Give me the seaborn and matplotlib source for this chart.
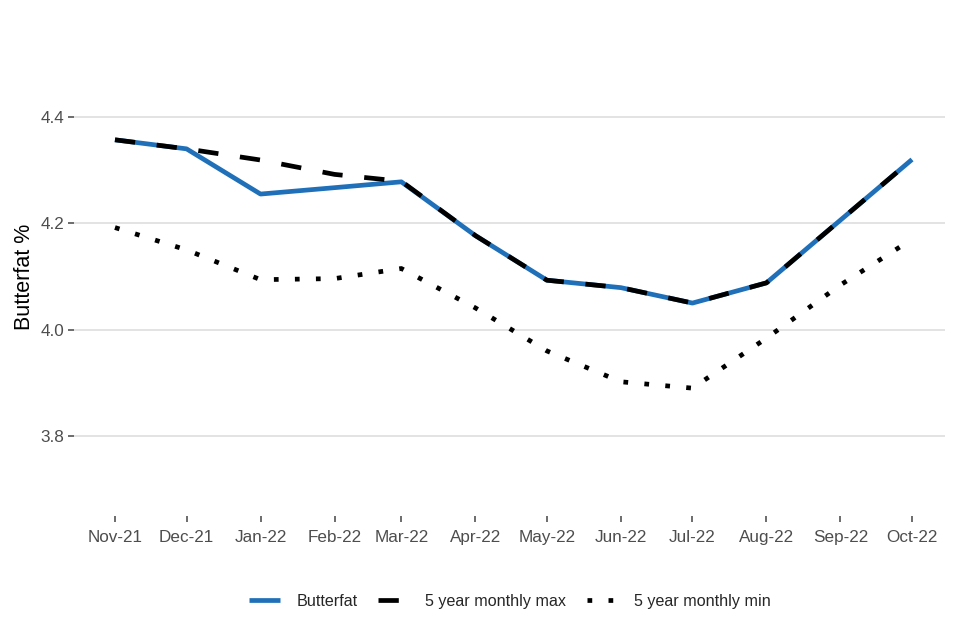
import pandas as pd
import numpy as np
import matplotlib
matplotlib.use("Agg")
import matplotlib.pyplot as plt
import matplotlib.dates as mdates
import seaborn as sns

# values
months = ["2021-11-01", "2021-12-01", "2022-01-01", "2022-02-01", "2022-03-01", "2022-04-01",
          "2022-05-01", "2022-06-01", "2022-07-01", "2022-08-01", "2022-09-01", "2022-10-01"]
butterfat = [4.357, 4.340, 4.255, 4.267, 4.278, 4.177, 4.093, 4.079, 4.050, 4.088, 4.206, 4.320]
max_5yr = [4.357, 4.340, 4.319, 4.292, 4.279, 4.177, 4.093, 4.079, 4.050, 4.088, 4.206, 4.320]
min_5yr = [4.192, 4.150, 4.094, 4.096, 4.115, 4.041, 3.960, 3.902, 3.890, 3.984, 4.084, 4.170]
series_names = ["Butterfat", "5 year monthly max", "5 year monthly min"]

df = pd.DataFrame({"month": pd.to_datetime(months),
                   series_names[0]: butterfat,
                   series_names[1]: max_5yr,
                   series_names[2]: min_5yr})
long = df.melt(id_vars="month", var_name="series", value_name="value")

sns.set_theme(style="white")
plt.rcParams['font.family'] = ['Liberation Sans', 'DejaVu Sans']

fig, ax = plt.subplots(figsize=(9.6, 6.4), dpi=100)

sns.lineplot(data=long, x="month", y="value", hue="series", style="series",
             hue_order=series_names, style_order=series_names,
             palette=["#1f70b8", "black", "black"],
             dashes=[(None, None), (4.3, 4.6), (1, 3.45)],
             linewidth=3.4, ax=ax)
for line in ax.lines:
    line.set_dash_capstyle("butt")
    line.set_solid_capstyle("butt")

ax.set_ylim(3.65, 4.55)
ax.set_yticks([3.8, 4.0, 4.2, 4.4])
ax.set_yticklabels(["3.8", "4.0", "4.2", "4.4"])
ax.set_xlim(pd.Timestamp("2021-10-15"), pd.Timestamp("2022-10-15"))
ax.xaxis.set_major_locator(mdates.MonthLocator())
ax.xaxis.set_major_formatter(mdates.DateFormatter("%b-%y"))

ax.yaxis.grid(True, color="#e3e3e3", linewidth=1.4)
ax.xaxis.grid(False)
for s in ax.spines.values():
    s.set_visible(False)
ax.tick_params(axis="both", which="major", length=4, width=1.1, color="#444444",
               labelsize=12.3, labelcolor="#4d4d4d", left=True, bottom=True, pad=3)
ax.tick_params(axis="x", pad=6)
ax.set_xlabel("")
ax.set_ylabel("Butterfat %", fontsize=15.5, color="black", labelpad=4)

ax.legend(title=None, loc="upper center", bbox_to_anchor=(0.5, -0.133), ncol=3,
          frameon=False, fontsize=11.6, handlelength=1.9, columnspacing=1.3,
          handletextpad=1.0)

plt.subplots_adjust(left=0.0775, right=0.9848, top=0.9419, bottom=0.1941)
fig.savefig("out.png", dpi=100)
